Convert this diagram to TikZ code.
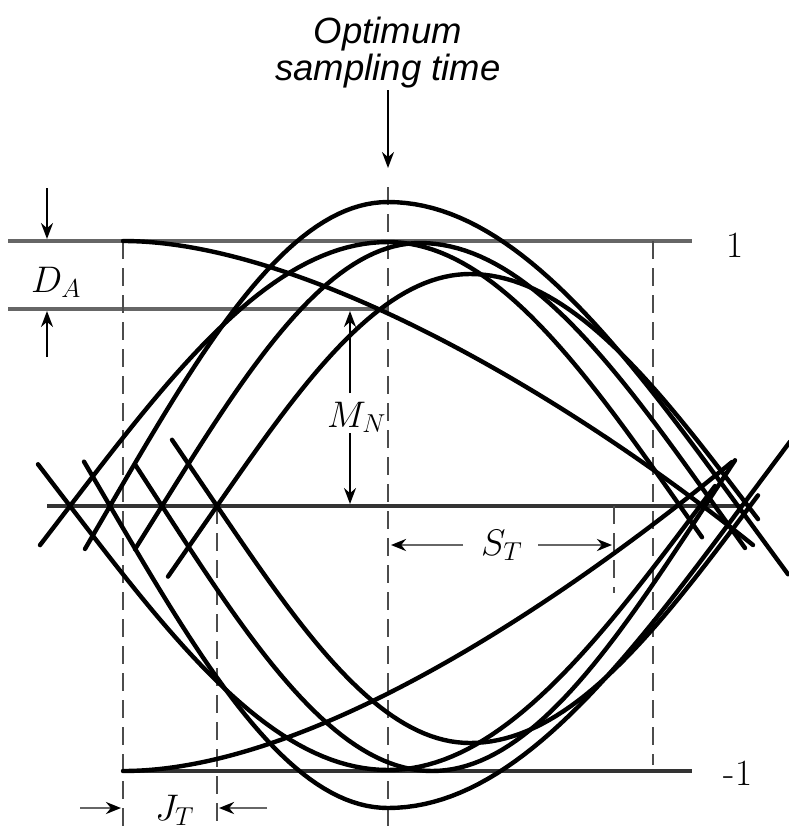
\documentclass[tikz,border=0pt]{standalone}
\usepackage{fix-cm}
\usepackage{fontspec}
\newfontfamily\lblfont{Liberation Sans}
\usetikzlibrary{arrows.meta}
\newcommand\eyearc[6]{%
  \pgfmathsetmacro\eyeSL{#3*pi/2/(#2-#1)}%
  \pgfmathsetmacro\eyeSR{#3*pi/2/(#4-#2)}%
  \pgfmathsetmacro\eyeKL{90/(#2-#1)}%
  \pgfmathsetmacro\eyeKR{90/(#4-#2)}%
  \draw[curve] ({#1-#5},{506+\eyeSL*#5})
    -- plot[domain=#1:#2,samples=40] (\x,{506-#3*sin(\eyeKL*(\x-#1))})
    -- plot[domain=#2:#4,samples=40] (\x,{506-#3*cos(\eyeKR*(\x-#2))})
    -- ({#4+#6},{506+\eyeSR*#6});}
\begin{document}
\begin{tikzpicture}[x=1pt,y=-1pt,
  curve/.style={line width=4.4pt, line join=round, line cap=round},
  level/.style={line width=3.2pt, draw=black!60},
  guide/.style={line width=2.6pt, draw=black!70, dash pattern=on 18pt off 9pt},
  dimarrow/.style={line width=2.2pt, -{Stealth[length=16pt,width=12pt]}},
  grayarrow/.style={line width=2.8pt, draw=black!60, -{Stealth[length=15pt,width=12pt,color=black]}},
  mathlbl/.style={font=\fontsize{37}{40}\selectfont, inner sep=0pt, anchor=base west},
  sanslbl/.style={font=\lblfont\itshape\fontsize{36.5}{40}\selectfont, inner sep=0pt, anchor=base},
]
\useasboundingbox (0,0) rectangle (788,830);
\fill[white] (0,0) rectangle (788,830);

% level lines
\coordinate (l1a) at (8,241);   \coordinate (l1b) at (692,241);
\coordinate (lda) at (8,309);   \coordinate (ldb) at (388,309);
\coordinate (l0a) at (47,506);  \coordinate (l0b) at (742,506);
\coordinate (lma) at (123,771); \coordinate (lmb) at (692,771);
\draw[level] (l1a) -- (l1b);
\draw[level] (lda) -- (ldb);
\draw[level,draw=black!80] (l0a) -- (l0b);
\draw[level,draw=black!80] (lma) -- (lmb);

% dashed guides
\coordinate (g1a) at (123,241); \coordinate (g1b) at (123,830);
\coordinate (g2a) at (217,506); \coordinate (g2b) at (217,830);
\coordinate (g3a) at (388,187); \coordinate (g3b) at (388,830);
\coordinate (g4a) at (614,506); \coordinate (g4b) at (614,593);
\coordinate (g5a) at (653,241); \coordinate (g5b) at (653,765);
\draw[guide] (g1a) -- (g1b);
\draw[guide] (g2a) -- (g2b);
\draw[guide] (g3a) -- (g3b);
\draw[guide] (g4a) -- (g4b);
\draw[guide] (g5a) -- (g5b);

% eye traces
\eyearc{110}{388}{304}{738}{25}{50}
\eyearc{70}{388}{264}{680}{30}{22}
\eyearc{162}{420}{263}{715}{27}{30}
\eyearc{217}{470}{232}{748}{49}{10}
\eyearc{110}{388}{-302}{742}{26}{48}
\eyearc{70}{388}{-264}{700}{32}{15}
\eyearc{162}{432}{-265}{705}{27}{30}
\eyearc{217}{470}{-237}{750}{45}{8}

% slow decay traces
\coordinate (dt0) at (123,241); \coordinate (dt1) at (753,545);
\coordinate (db0) at (123,771); \coordinate (db1) at (732,462);
\draw[curve] (dt0) .. controls (300,241) and (560,390) .. (dt1);
\draw[curve] (db0) .. controls (300,771) and (540,620) .. (db1);

% title and arrow
\node[sanslbl] (opt1) at (388,43) {Optimum};
\node[sanslbl] (opt2) at (388,80) {sampling time};
\coordinate (ta) at (388,90); \coordinate (tb) at (388,168);
\draw[dimarrow] (ta) -- (tb);

% D_A
\coordinate (da1) at (47,188); \coordinate (da2) at (47,239);
\coordinate (da3) at (47,357); \coordinate (da4) at (47,311);
\draw[dimarrow] (da1) -- (da2);
\draw[dimarrow] (da3) -- (da4);
\node[mathlbl] (DA) at (31,292) {$D_A$};

% M_N
\node[mathlbl] (MN) at (327,427) {$M_N$};
\coordinate (mn1) at (350,393); \coordinate (mn2) at (350,311);
\coordinate (mn3) at (350,433); \coordinate (mn4) at (350,504);
\draw[dimarrow] (mn1) -- (mn2);
\draw[dimarrow] (mn3) -- (mn4);

% S_T
\node[mathlbl] (ST) at (481,555) {$S_T$};
\coordinate (st1) at (463,545); \coordinate (st2) at (391,545);
\coordinate (st3) at (538,545); \coordinate (st4) at (612,545);
\draw[grayarrow] (st1) -- (st2);
\draw[grayarrow] (st3) -- (st4);

% J_T
\node[mathlbl] (JT) at (155,820) {$J_T$};
\coordinate (jt1) at (80,808); \coordinate (jt2) at (121,808);
\coordinate (jt3) at (267,808); \coordinate (jt4) at (219,808);
\draw[grayarrow] (jt1) -- (jt2);
\draw[grayarrow] (jt3) -- (jt4);

% level labels
\node[font=\fontsize{37}{40}\selectfont, inner sep=0pt, anchor=base] (one) at (735,257) {1};
\node[font=\fontsize{37}{40}\selectfont, inner sep=0pt, anchor=base] (mone) at (738,785) {-1};
\end{tikzpicture}
\end{document}
